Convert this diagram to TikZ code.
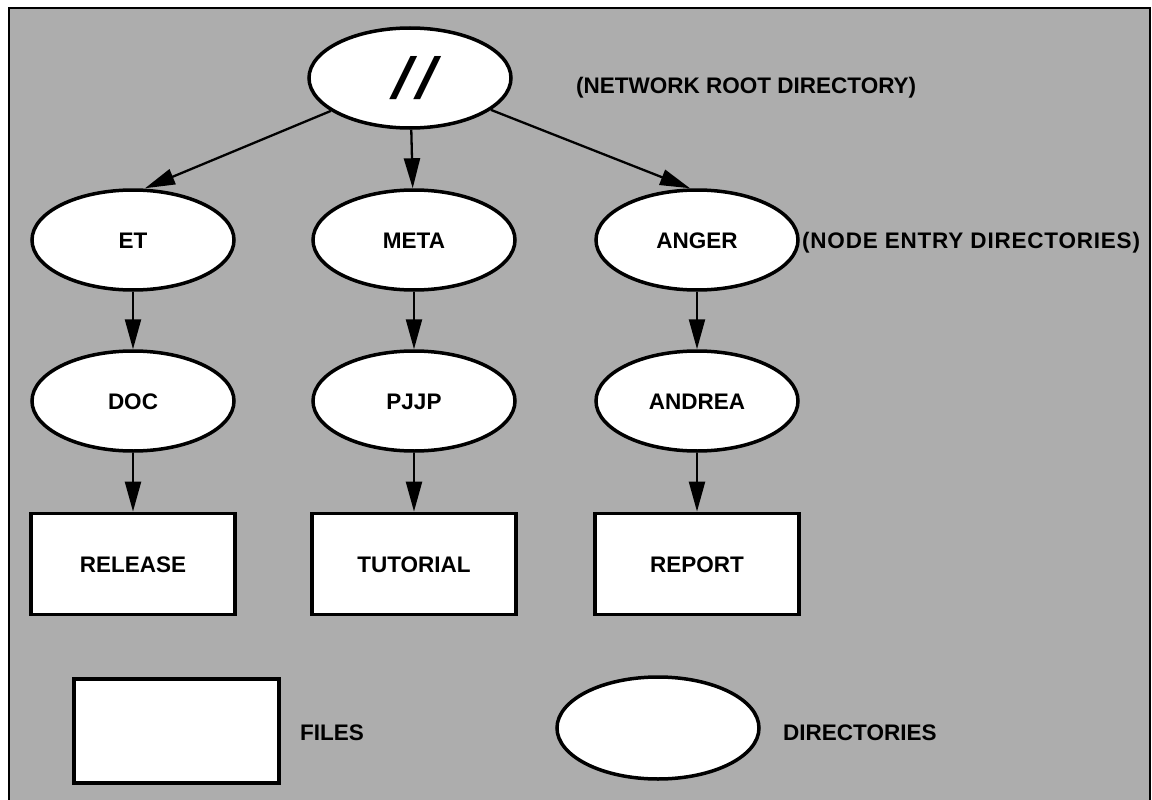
\documentclass[tikz,border=0pt]{standalone}
\usepackage{fontspec}
\setmainfont{Liberation Sans}
\newfontfamily\slashfont[FakeSlant=0.3]{Liberation Sans}
\usetikzlibrary{shapes.geometric,arrows.meta}
\definecolor{panel}{gray}{0.68}
\tikzset{
  txt/.style={font=\fontsize{22.5}{27}\selectfont\bfseries, text height=16.2pt, text depth=0pt, inner sep=0pt},
  dirnode/.style={ellipse, draw, fill=white, line width=3.5pt, minimum width=202pt, minimum height=100pt, inner sep=0pt, txt},
  filenode/.style={rectangle, draw, fill=white, line width=3.8pt, minimum width=204pt, minimum height=101pt, inner sep=0pt, txt},
  link/.style={line width=2.3pt, -{Triangle[length=30pt,width=16pt]}},
}
\begin{document}
\begin{tikzpicture}[x=1pt,y=-1pt]
\useasboundingbox (0,0) rectangle (1152,800);
\fill[white] (0,0) rectangle (1152,800);
% shaded panel with its frame (open at the bottom)
\fill[panel] (9,8) rectangle (1150,800);
\draw[line width=2.8pt] (9,800) -- (9,8) -- (1150,8) -- (1150,800);

% network root
\node[dirnode, font=\slashfont\fontsize{58}{58}\selectfont\bfseries, text height=, text depth=] (root) at (410,78) {/\kern8pt/};
\node[txt, anchor=west] (rootlbl) at (576,85) {(NETWORK ROOT DIRECTORY)};

% node entry directories
\node[dirnode] (et)    at (133,240) {ET};
\node[dirnode] (meta)  at (414,240) {META};
\node[dirnode] (anger) at (697,240) {ANGER};
\node[txt, anchor=west] (entrylbl) at (802,240) {\addfontfeature{LetterSpace=3.5}(NODE ENTRY DIRECTORIES)};

% subdirectories
\node[dirnode] (doc)    at (133,401) {DOC};
\node[dirnode] (pjjp)   at (414,401) {PJJP};
\node[dirnode] (andrea) at (697,401) {ANDREA};

% files
\node[filenode] (release)  at (133,564) {RELEASE};
\node[filenode] (tutorial) at (414,564) {TUTORIAL};
\node[filenode] (report)   at (697,564) {REPORT};

% connectors
\draw[link] (root) -- ([xshift=12pt]et.north);
\draw[link] (root) -- (meta);
\draw[link] (root) -- ([xshift=-7pt]anger.north);
\draw[link] (et) -- (doc);
\draw[link] (meta) -- (pjjp);
\draw[link] (anger) -- (andrea);
\draw[link] (doc) -- (release);
\draw[link] (pjjp) -- (tutorial);
\draw[link] (andrea) -- (report);

% legend
\node[filenode, minimum width=205pt, minimum height=104pt] (legfile) at (176.5,731) {};
\node[txt, anchor=west] (fileslbl) at (300,732) {FILES};
\node[dirnode, minimum height=102pt] (legdir) at (658,728) {};
\node[txt, anchor=west] (dirslbl) at (783,732) {DIRECTORIES};
\end{tikzpicture}
\end{document}
